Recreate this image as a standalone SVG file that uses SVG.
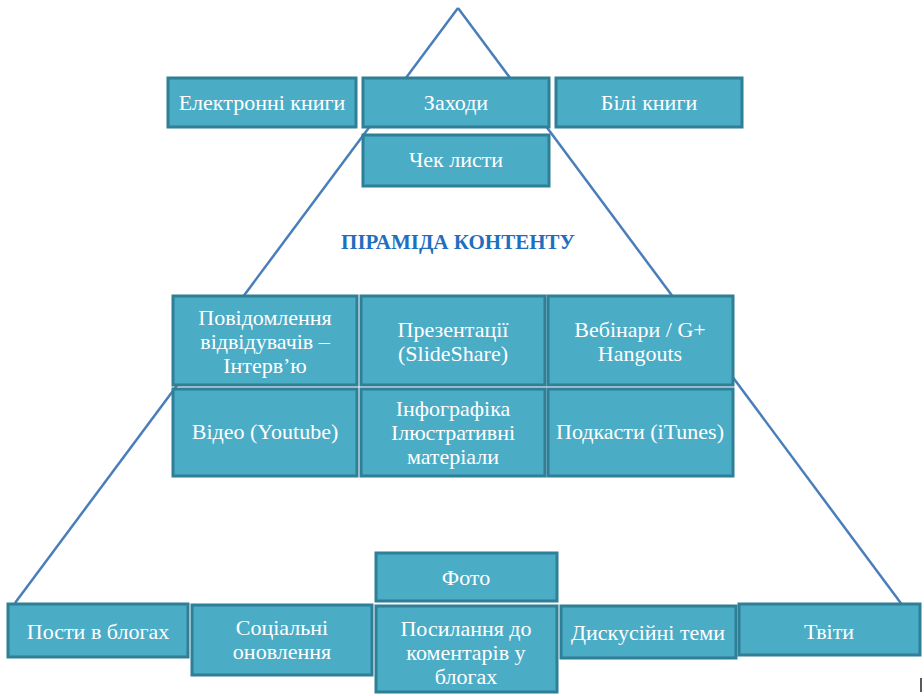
<svg xmlns="http://www.w3.org/2000/svg" width="924" height="696" viewBox="0 0 924 696">
<style>
.b rect{fill:#4bacc6;stroke:#2f7f96;stroke-width:3}
.b text{fill:#fff;font-family:'Liberation Serif','Times New Roman',Tinos,'Noto Serif','DejaVu Serif',serif;font-size:22px;text-anchor:middle;dominant-baseline:central}
.c line{stroke:#4a7ebb;stroke-width:2.5}
.t{font-family:'Liberation Serif','Times New Roman',Tinos,'Noto Serif','DejaVu Serif',serif;font-weight:bold;font-size:21px;fill:#1f6fbf;text-anchor:middle;dominant-baseline:central}
</style>
<rect width="924" height="696" fill="#fff"/>
<g id="connectors" class="c">
<line x1="458" y1="8" x2="15" y2="603"/>
<line x1="458" y1="8" x2="903" y2="606"/>
</g>
<text class="t" x="458" y="242">ПІРАМІДА КОНТЕНТУ</text>
<g id="n-ebooks" class="b"><rect x="168" y="78" width="188" height="49"/><text x="262" y="102">Електронні книги</text></g>
<g id="n-events" class="b"><rect x="363" y="78" width="186" height="49"/><text x="456" y="102">Заходи</text></g>
<g id="n-whitepapers" class="b"><rect x="556" y="78" width="186" height="49"/><text x="649" y="102">Білі книги</text></g>
<g id="n-checklists" class="b"><rect x="363" y="135" width="186" height="51"/><text x="456" y="159">Чек листи</text></g>
<g id="n-interviews" class="b"><rect x="173" y="296" width="184" height="89"/><text x="265" y="317">Повідомлення</text><text x="265" y="341">відвідувачів –</text><text x="265" y="365">Інтерв’ю</text></g>
<g id="n-presentations" class="b"><rect x="361" y="296" width="184" height="89"/><text x="453" y="329">Презентації</text><text x="453" y="353">(SlideShare)</text></g>
<g id="n-webinars" class="b"><rect x="548" y="296" width="185" height="89"/><text x="640" y="329">Вебінари / G+</text><text x="640" y="353">Hangouts</text></g>
<g id="n-video" class="b"><rect x="173" y="389" width="184" height="87"/><text x="265" y="431">Відео (Youtube)</text></g>
<g id="n-infographics" class="b"><rect x="361" y="389" width="184" height="87"/><text x="453" y="408">Інфографіка</text><text x="453" y="432">Ілюстративні</text><text x="453" y="456">матеріали</text></g>
<g id="n-podcasts" class="b"><rect x="548" y="389" width="185" height="87"/><text x="640" y="431">Подкасти (iTunes)</text></g>
<g id="n-photo" class="b"><rect x="376" y="553" width="181" height="48"/><text x="466" y="577">Фото</text></g>
<g id="n-blogposts" class="b"><rect x="8" y="604" width="180" height="53"/><text x="98" y="631">Пости в блогах</text></g>
<g id="n-social" class="b"><rect x="192" y="605" width="180" height="70"/><text x="282" y="627">Соціальні</text><text x="282" y="651">оновлення</text></g>
<g id="n-comments" class="b"><rect x="376" y="606" width="181" height="86"/><text x="466" y="628">Посилання до</text><text x="466" y="652">коментарів у</text><text x="466" y="676">блогах</text></g>
<g id="n-discussions" class="b"><rect x="561" y="606" width="175" height="52"/><text x="648" y="632">Дискусійні теми</text></g>
<g id="n-tweets" class="b"><rect x="739" y="604" width="181" height="51"/><text x="829" y="631">Твіти</text></g>
<line x1="921" y1="678" x2="921" y2="692" stroke="#222" stroke-width="1.5"/>
</svg>
